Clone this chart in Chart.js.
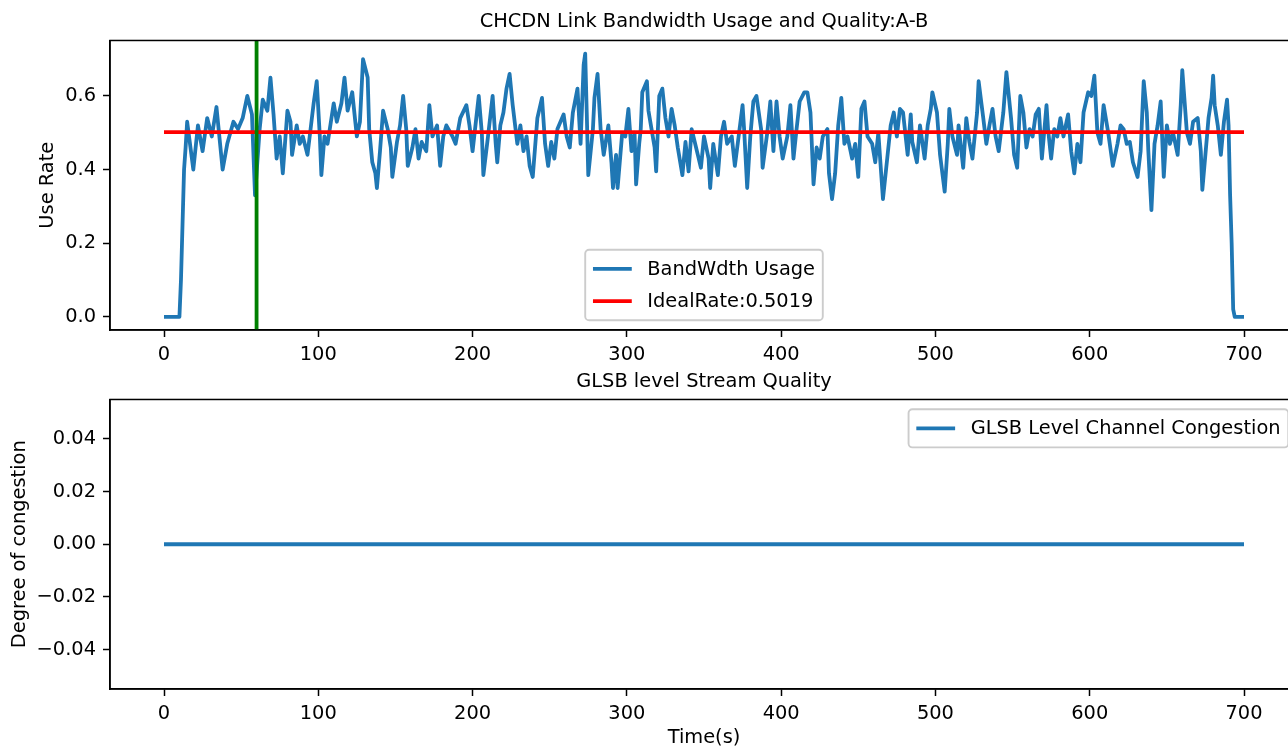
<!DOCTYPE html>
<html>
<head>
<meta charset="utf-8">
<script src="https://cdn.jsdelivr.net/npm/chart.js@4.4.1/dist/chart.umd.min.js"></script>
<style>
  html, body { margin: 0; padding: 0; background: #fff; overflow: hidden; width: 1288px; height: 747px; }
  .box { position: absolute; left: 0; width: 1300px; }
  #top { top: 0; height: 370px; }
  #bottom { top: 370px; height: 380px; }
</style>
</head>
<body>
<div class="box" id="top"><canvas id="usageChart"></canvas></div>
<div class="box" id="bottom"><canvas id="congestionChart"></canvas></div>
<script>
// bandwidth usage (seconds, use rate)
const times = [0, 10, 11, 12, 13, 14, 15, 19, 22, 25, 28, 31, 34, 38, 41, 45, 48, 51, 54, 57, 59,
  62, 64, 67, 69, 71, 73, 75, 77, 80, 82, 83, 86, 88, 90, 93, 95, 97, 99, 101, 102, 104, 106, 110,
  112, 115, 117, 119, 122, 124, 125, 127, 129, 132, 133, 135, 137, 138, 140, 142, 145, 147, 148,
  151, 153, 155, 157, 158, 161, 163, 165, 167, 170, 172, 174, 177, 179, 181, 183, 187, 189, 192,
  196, 198, 200, 204, 206, 207, 210, 213, 215, 216, 218, 220, 222, 224, 226, 229, 231, 233, 235,
  237, 239, 242, 245, 247, 249, 251, 253, 255, 259, 261, 263, 265, 268, 270, 272, 273, 274, 275,
  278, 279, 281, 283, 285, 288, 290, 291, 293, 294, 297, 299, 301, 303, 305, 306, 308, 309, 310,
  313, 314, 316, 318, 319, 321, 323, 325, 327, 329, 331, 333, 336, 338, 340, 342, 344, 346, 348,
  350, 353, 354, 356, 359, 361, 363, 365, 368, 370, 372, 375, 376, 378, 380, 382, 384, 387, 388,
  391, 393, 395, 397, 399, 401, 404, 406, 408, 410, 412, 415, 417, 419, 421, 423, 425, 427, 430,
  431, 433, 435, 437, 439, 441, 443, 446, 448, 450, 452, 454, 456, 459, 461, 463, 466, 469, 471,
  473, 475, 477, 479, 482, 484, 485, 488, 490, 493, 495, 497, 498, 501, 503, 506, 508, 509, 511,
  514, 515, 518, 520, 522, 524, 527, 528, 531, 533, 535, 537, 539, 541, 544, 546, 549, 551, 553,
  555, 557, 559, 561, 563, 565, 567, 569, 572, 573, 575, 577, 579, 581, 583, 586, 588, 590, 592,
  594, 596, 599, 601, 603, 605, 607, 609, 612, 615, 618, 620, 622, 624, 626, 628, 631, 633, 635,
  637, 638, 640, 642, 644, 646, 648, 650, 652, 654, 657, 659, 660, 663, 665, 667, 670, 672, 673,
  676, 677, 679, 680, 681, 683, 685, 687, 689, 690, 691, 692, 693, 694, 700];
const usage = [0, 0, 0.10, 0.25, 0.40, 0.46, 0.53, 0.40, 0.52, 0.45, 0.54, 0.49, 0.57, 0.40, 0.47, 0.53, 0.51, 0.54, 0.60, 0.55, 0.33,
  0.51, 0.59, 0.56, 0.65, 0.55, 0.43, 0.49, 0.39, 0.56, 0.53, 0.44, 0.52, 0.47, 0.49, 0.44, 0.51, 0.58, 0.64, 0.49, 0.385, 0.49, 0.47, 0.58,
  0.53, 0.58, 0.65, 0.56, 0.61, 0.53, 0.49, 0.53, 0.70, 0.65, 0.51, 0.42, 0.39, 0.35, 0.45, 0.56, 0.51, 0.46, 0.38,
  0.475, 0.52, 0.60, 0.51, 0.41, 0.46, 0.51, 0.43, 0.475, 0.45, 0.575, 0.49, 0.52, 0.41, 0.49, 0.52, 0.49, 0.47, 0.54,
  0.575, 0.52, 0.45, 0.60, 0.50, 0.385, 0.49, 0.60, 0.47, 0.42, 0.52, 0.555, 0.62, 0.66, 0.575, 0.47, 0.52, 0.45, 0.49,
  0.41, 0.38, 0.54, 0.595, 0.47, 0.41, 0.475, 0.43, 0.51, 0.55, 0.49, 0.46, 0.555, 0.62, 0.47, 0.685, 0.715, 0.555, 0.385,
  0.51, 0.595, 0.66, 0.51, 0.44, 0.52, 0.42, 0.35, 0.44, 0.35, 0.50, 0.49, 0.565, 0.45, 0.50, 0.36, 0.47, 0.51, 0.61,
  0.64, 0.56, 0.51, 0.46, 0.395, 0.60, 0.62, 0.54, 0.49, 0.565, 0.52, 0.46, 0.385, 0.475, 0.395, 0.51, 0.475, 0.44, 0.405,
  0.49, 0.43, 0.35, 0.47, 0.385, 0.49, 0.53, 0.47, 0.49, 0.41, 0.475, 0.575, 0.51, 0.35, 0.49, 0.585, 0.60, 0.51, 0.405,
  0.50, 0.585, 0.45, 0.585, 0.49, 0.43, 0.49, 0.575, 0.43, 0.51, 0.585, 0.61, 0.61, 0.555, 0.36, 0.46, 0.43, 0.49, 0.51,
  0.39, 0.32, 0.39, 0.52, 0.595, 0.47, 0.49, 0.43, 0.47, 0.38, 0.565, 0.585, 0.49, 0.47, 0.42, 0.50, 0.32, 0.44, 0.52,
  0.555, 0.49, 0.565, 0.555, 0.44, 0.55, 0.475, 0.42, 0.52, 0.43, 0.52, 0.565, 0.61, 0.555, 0.44, 0.34, 0.47, 0.565, 0.49,
  0.44, 0.52, 0.405, 0.54, 0.475, 0.43, 0.555, 0.64, 0.54, 0.47, 0.52, 0.565, 0.49, 0.45, 0.555, 0.665, 0.54, 0.44, 0.405,
  0.60, 0.555, 0.46, 0.51, 0.49, 0.55, 0.565, 0.43, 0.575, 0.51, 0.43, 0.51, 0.49, 0.54, 0.49, 0.55, 0.45, 0.39, 0.47,
  0.42, 0.555, 0.61, 0.60, 0.655, 0.50, 0.47, 0.575, 0.50, 0.41, 0.47, 0.52, 0.51, 0.47, 0.475, 0.42, 0.38, 0.45, 0.64,
  0.555, 0.45, 0.29, 0.47, 0.52, 0.585, 0.38, 0.52, 0.47, 0.50, 0.44, 0.575, 0.67, 0.50, 0.47, 0.53, 0.54, 0.45, 0.345,
  0.49, 0.54, 0.595, 0.655, 0.575, 0.52, 0.44, 0.53, 0.59, 0.52, 0.33, 0.20, 0.02, 0, 0];
const idealRate = 0.5019;
const markerTime = 60;

// congestion series (flat at zero the whole run)
const congestionTimes = [0, 700];
const congestion = [0, 0];

// tick labels
const timeTicks = [0, 100, 200, 300, 400, 500, 600, 700];
const usageTicks = [0, 0.2, 0.4, 0.6];
const congestionTicks = [-0.04, -0.02, 0, 0.02, 0.04];

const FS = 19.4;
const BLUE = '#1f77b4';
Chart.defaults.font.family = "'DejaVu Sans', sans-serif";
Chart.defaults.font.size = FS;
Chart.defaults.color = '#000';

// matplotlib style margins
const tMin = Math.min(...times), tMax = Math.max(...times);
const xMin = tMin - 0.05 * (tMax - tMin);
const xMax = tMax + 0.05 * (tMax - tMin);
const uMin = Math.min(...usage), uMax = Math.max(...usage, idealRate);
const yMin = uMin - 0.05 * (uMax - uMin);
const yMax = uMax + 0.05 * (uMax - uMin);

// box around the plot area
const frame = {
  id: 'frame',
  afterDraw(chart) {
    const {ctx, chartArea: a} = chart;
    ctx.save();
    ctx.strokeStyle = '#000';
    ctx.lineWidth = 1.5;
    ctx.strokeRect(a.left, a.top, a.right - a.left, a.bottom - a.top);
    ctx.restore();
  }
};

// vertical green marker
const marker = {
  id: 'marker',
  afterDatasetsDraw(chart, args, opts) {
    const {ctx, chartArea: a} = chart;
    const x = chart.scales.x.getPixelForValue(opts.value);
    ctx.save();
    ctx.strokeStyle = opts.color;
    ctx.lineWidth = opts.width;
    ctx.beginPath();
    ctx.moveTo(x, a.top);
    ctx.lineTo(x, a.bottom);
    ctx.stroke();
    ctx.restore();
  }
};

// matplotlib-like legend box inside the axes
const boxLegend = {
  id: 'boxLegend',
  afterDraw(chart, args, opts) {
    const {ctx, chartArea: a} = chart;
    const items = opts.items;
    ctx.save();
    ctx.font = FS + "px 'DejaVu Sans'";
    const textW = Math.max(...items.map(i => ctx.measureText(i.label).width));
    const pad = 0.4 * FS, handle = 2 * FS, gap = 0.8 * FS;
    const rowH = 1.17 * FS, spacing = 0.5 * FS, edge = 0.5 * FS;
    const w = pad * 2 + handle + gap + textW;
    const h = pad * 2 + rowH * items.length + spacing * (items.length - 1);
    let x, y;
    if (opts.loc === 'lower center') {
      x = (a.left + a.right) / 2 - w / 2;
      y = a.bottom - edge - h;
    } else {
      x = a.right - edge - w;
      y = a.top + edge;
    }
    ctx.beginPath();
    ctx.roundRect(x, y, w, h, 0.2 * FS);
    ctx.fillStyle = 'rgba(255,255,255,0.8)';
    ctx.fill();
    ctx.strokeStyle = '#cccccc';
    ctx.lineWidth = 1.9;
    ctx.stroke();
    items.forEach((it, i) => {
      const cy = y + pad + (rowH + spacing) * i + rowH / 2;
      ctx.strokeStyle = it.color;
      ctx.lineWidth = 3.8;
      ctx.beginPath();
      ctx.moveTo(x + pad, cy);
      ctx.lineTo(x + pad + handle, cy);
      ctx.stroke();
      ctx.fillStyle = '#000';
      ctx.textBaseline = 'middle';
      ctx.fillText(it.label, x + pad + handle + gap, cy + 1);
    });
    ctx.restore();
  }
};

function axisStyle() {
  return {
    grid: { drawOnChartArea: false, drawTicks: true, tickLength: 7, tickWidth: 1.5, tickColor: '#000' },
    border: { display: true, color: '#000', width: 1.5 }
  };
}

new Chart(document.getElementById('usageChart'), {
  type: 'line',
  data: {
    datasets: [{
      label: 'BandWdth Usage',
      data: times.map((t, i) => ({x: t, y: usage[i]})),
      borderColor: BLUE,
      borderWidth: 3.8,
      borderJoinStyle: 'round',
      pointRadius: 0,
      tension: 0,
      order: 2
    }, {
      label: 'IdealRate:' + idealRate,
      data: [{x: tMin, y: idealRate}, {x: tMax, y: idealRate}],
      borderColor: '#ff0000',
      borderWidth: 3.8,
      pointRadius: 0,
      order: 1
    }]
  },
  options: {
    animation: false,
    responsive: true,
    maintainAspectRatio: false,
    devicePixelRatio: 1,
    layout: { padding: { left: 0, right: 2, top: 0, bottom: 0 } },
    scales: {
      x: {
        type: 'linear', min: xMin, max: xMax,
        afterBuildTicks: s => { s.ticks = timeTicks.map(v => ({value: v})); },
        afterFit: s => { s.height = 40; },
        ticks: { padding: 6, maxRotation: 0, autoSkip: false, callback: v => String(v) },
        ...axisStyle()
      },
      y: {
        min: yMin, max: yMax,
        afterBuildTicks: s => { s.ticks = usageTicks.map(v => ({value: v})); },
        afterFit: s => { s.width = 110; },
        ticks: { padding: 7, callback: v => v.toFixed(1) },
        title: { display: true, text: 'Use Rate', padding: { top: 36.4, bottom: 0 } },
        ...axisStyle()
      }
    },
    plugins: {
      legend: { display: false },
      tooltip: { enabled: false },
      title: {
        display: true, fullSize: false,
        text: 'CHCDN Link Bandwidth Usage and Quality:A-B',
        font: { size: FS, weight: 'normal' },
        color: '#000',
        padding: { top: 10.6, bottom: 6.6 }
      },
      marker: { value: markerTime, color: '#008000', width: 3.8 },
      boxLegend: {
        loc: 'lower center',
        items: [{label: 'BandWdth Usage', color: BLUE}, {label: 'IdealRate:' + idealRate, color: '#ff0000'}]
      }
    }
  },
  plugins: [frame, marker, boxLegend]
});

new Chart(document.getElementById('congestionChart'), {
  type: 'line',
  data: {
    datasets: [{
      label: 'GLSB Level Channel Congestion',
      data: congestionTimes.map((t, i) => ({x: t, y: congestion[i]})),
      borderColor: BLUE,
      borderWidth: 3.8,
      pointRadius: 0
    }]
  },
  options: {
    animation: false,
    responsive: true,
    maintainAspectRatio: false,
    devicePixelRatio: 1,
    layout: { padding: { left: 0, right: 2, top: 0, bottom: 0 } },
    scales: {
      x: {
        type: 'linear', min: xMin, max: xMax,
        afterBuildTicks: s => { s.ticks = timeTicks.map(v => ({value: v})); },
        afterFit: s => { s.height = 61; },
        ticks: { padding: 6, maxRotation: 0, autoSkip: false, callback: v => String(v) },
        title: { display: true, text: 'Time(s)', padding: { top: 0, bottom: 0.6 } },
        ...axisStyle()
      },
      y: {
        min: -0.055, max: 0.055,
        afterBuildTicks: s => { s.ticks = congestionTicks.map(v => ({value: v})); },
        afterFit: s => { s.width = 110; },
        ticks: { padding: 7, callback: v => v.toFixed(2).replace('-', '\u2212') },
        title: { display: true, text: 'Degree of congestion', padding: { top: 8.4, bottom: 0 } },
        ...axisStyle()
      }
    },
    plugins: {
      legend: { display: false },
      tooltip: { enabled: false },
      title: {
        display: true, fullSize: false,
        text: 'GLSB level Stream Quality',
        font: { size: FS, weight: 'normal' },
        color: '#000',
        padding: { top: 0.6, bottom: 5.6 }
      },
      boxLegend: {
        loc: 'upper right',
        items: [{label: 'GLSB Level Channel Congestion', color: BLUE}]
      }
    }
  },
  plugins: [frame, boxLegend]
});
</script>
</body>
</html>
